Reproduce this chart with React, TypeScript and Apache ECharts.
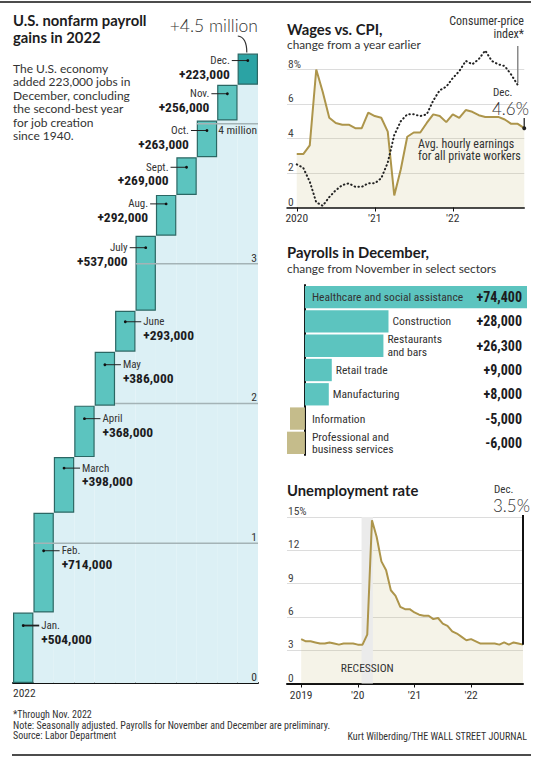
import React, { useEffect, useRef } from 'react';
import * as echarts from 'echarts';

const SANS = 'Lato, "Noto Sans", sans-serif';
const NARROW = '"Liberation Sans Narrow", "Roboto Condensed", "DejaVu Sans Condensed", Roboto, sans-serif';
const INK = '#1c1c1e';
const TEXT = '#333333';
const TEAL = '#5cc4bf';
const TEAL_DARK = '#2ba3a4';
const KHAKI = '#c5bc8b';
const GOLD = '#ad954b';

// ---- Panel 1: nonfarm payroll gains in 2022 (thousands of jobs)
const months = ['Jan.', 'Feb.', 'March', 'April', 'May', 'June', 'July', 'Aug.', 'Sept.', 'Oct.', 'Nov.', 'Dec.'];
const monthlyGains = [504, 714, 398, 368, 386, 293, 537, 292, 269, 263, 256, 223];
const cumTicks = [0, 1000, 2000, 3000, 4000];
const cumTickLabels = ['0', '1', '2', '3', '4 million'];
const cumTickStartMonth = [0, 1, 5, 6, 9];
// label layout (side of bar, offset below bar top in px)
const labelSide = ['r', 'r', 'r', 'r', 'r', 'r', 'l', 'l', 'l', 'l', 'l', 'l'];
const labelDy = [13, 38, 11, 13, 13, 11, 12, 9, 10, 10, 9, 7];

// ---- Panel 2: wages vs CPI, % change from a year earlier, Jan 2020 - Dec 2022
const wageTickValues = [0, 12, 24];
const wageTickLabels = ['2020', "'21", "'22"];
const hourlyEarnings = [
  3.1, 3.1, 3.6, 8.0, 6.7, 5.2, 4.9, 4.8, 4.8, 4.6, 4.6, 5.5,
  5.3, 5.2, 4.4, 0.7, 2.2, 4.1, 4.35, 4.35, 4.9, 5.4, 5.3, 4.95,
  5.4, 5.2, 5.65, 5.55, 5.35, 5.25, 5.25, 5.25, 5.1, 4.85, 4.85, 4.6,
];
const cpi = [
  2.5, 2.3, 1.5, 0.3, 0.1, 0.6, 1.0, 1.3, 1.4, 1.2, 1.2, 1.4,
  1.4, 1.7, 2.6, 4.2, 5.0, 5.4, 5.4, 5.3, 5.4, 6.2, 6.8, 7.0,
  7.5, 7.9, 8.5, 8.3, 8.6, 9.1, 8.5, 8.3, 8.2, 7.7, 7.1,
];

// ---- Panel 3: payrolls in December by sector
const sectors = [
  'Healthcare and social assistance',
  'Construction',
  'Restaurants\nand bars',
  'Retail trade',
  'Manufacturing',
  'Information',
  'Professional and\nbusiness services',
];
const sectorChange = [74400, 28000, 26300, 9000, 8000, -5000, -6000];

// ---- Panel 4: unemployment rate, Jan 2019 - Dec 2022
const unempTickValues = [0, 12, 24, 36];
const unempTickLabels = ['2019', "'20", "'21", "'22"];
const unemployment = [
  4.0, 3.8, 3.8, 3.7, 3.6, 3.6, 3.7, 3.6, 3.5, 3.6, 3.6, 3.6,
  3.5, 3.5, 4.4, 14.7, 13.2, 11.0, 10.2, 8.4, 7.9, 6.9, 6.7, 6.7,
  6.4, 6.2, 6.1, 6.1, 5.8, 5.9, 5.4, 5.2, 4.7, 4.5, 4.2, 3.9,
  4.0, 3.8, 3.6, 3.6, 3.6, 3.6, 3.5, 3.7, 3.5, 3.7, 3.6, 3.5,
];
const recession = [13, 15];

const cumEnd: number[] = [];
monthlyGains.forEach((v, i) => cumEnd.push((i ? cumEnd[i - 1] : 0) + v));
const cumStart = cumEnd.map((v, i) => v - monthlyGains[i]);

const fmtJobs = (k: number) => '+' + (k * 1000).toLocaleString('en-US');
const fmtSector = (v: number) => (v > 0 ? '+' : '') + v.toLocaleString('en-US');

function T(x: number, y: number, text: string, o: any = {}) {
  return {
    type: 'text', x, y, silent: true, z: 100,
    style: {
      text, fill: o.fill || TEXT, fontSize: o.size || 12, fontFamily: o.family || SANS,
      fontWeight: o.weight || 'normal', align: o.align || 'left', verticalAlign: o.va || 'middle',
      lineHeight: o.lh,
    },
  };
}
function L(x1: number, y1: number, x2: number, y2: number, color: string, w: number) {
  return { type: 'line', silent: true, z: 100, shape: { x1, y1, x2, y2 }, style: { stroke: color, lineWidth: w } };
}

function buildOption(): any {
  const yLabel = (fmt: (v: number) => string) => ({
    inside: true, margin: 1, align: 'left', verticalAlign: 'bottom', fontSize: 11.5,
    color: '#444', fontFamily: NARROW, formatter: fmt,
  });
  return {
    animation: false,
    grid: [
      { left: 13, top: 40, width: 245, height: 643 },
      { left: 287, top: 69.5, width: 237.25, height: 138 },
      { left: 287, top: 285, width: 240, height: 170 },
      { left: 287, top: 517, width: 236, height: 166.5 },
    ],
    xAxis: [
      {
        gridIndex: 0, type: 'category', data: months, boundaryGap: true,
        axisLine: { lineStyle: { color: '#111', width: 2 } }, axisTick: { show: false }, axisLabel: { show: false },
      },
      {
        gridIndex: 1, type: 'value', min: -1.5, max: 35, splitLine: { show: false },
        axisLine: { lineStyle: { color: '#111', width: 1.5 } },
        axisTick: { customValues: wageTickValues, length: 4, lineStyle: { color: '#111' } },
        axisLabel: {
          customValues: wageTickValues, margin: 4, fontSize: 11.5, color: TEXT, fontFamily: NARROW,
          formatter: (v: number) => wageTickLabels[wageTickValues.indexOf(v)] || '',
        },
      },
      { gridIndex: 2, type: 'value', min: -6000, max: 74400, show: false },
      {
        gridIndex: 3, type: 'value', min: -3, max: 47, splitLine: { show: false },
        axisLine: { lineStyle: { color: '#111', width: 2 } },
        axisTick: { customValues: unempTickValues, length: 4, lineStyle: { color: '#111' } },
        axisLabel: {
          customValues: unempTickValues, margin: 5, fontSize: 11.5, color: TEXT, fontFamily: NARROW,
          formatter: (v: number) => unempTickLabels[unempTickValues.indexOf(v)] || '',
        },
      },
    ],
    yAxis: [
      { gridIndex: 0, type: 'value', min: 0, max: 4600, show: false },
      {
        gridIndex: 1, type: 'value', min: 0, max: 8, interval: 2,
        axisLine: { show: false }, axisTick: { show: false },
        splitLine: { lineStyle: { color: '#dcdcdc', width: 1.2 } },
        axisLabel: yLabel((v: number) => (v === 8 ? '8%' : String(v))),
      },
      {
        gridIndex: 2, type: 'category', data: sectors, inverse: true,
        axisLine: { onZero: true, lineStyle: { color: '#111', width: 2 } },
        axisTick: { show: false }, axisLabel: { show: false },
      },
      {
        gridIndex: 3, type: 'value', min: 0, max: 15, interval: 3,
        axisLine: { show: false }, axisTick: { show: false },
        splitLine: { lineStyle: { color: '#dcdcdc', width: 1.2 } },
        axisLabel: yLabel((v: number) => (v === 15 ? '15%' : String(v))),
      },
    ],
    series: [
      {
        type: 'bar', xAxisIndex: 0, yAxisIndex: 0, stack: 'w', data: cumStart, barWidth: '100%',
        itemStyle: { color: '#dcf0f5' }, silent: true, z: 1,
      },
      {
        type: 'bar', xAxisIndex: 0, yAxisIndex: 0, stack: 'w', barWidth: '100%', silent: true, z: 2,
        data: monthlyGains.map((v, i) => ({ value: v, itemStyle: { color: i === 11 ? TEAL_DARK : TEAL } })),
        itemStyle: { borderColor: '#2b6764', borderWidth: 1.2 },
      },
      {
        type: 'custom', xAxisIndex: 0, yAxisIndex: 0, z: 4, silent: true,
        data: cumTicks.map((v, i) => [cumTickStartMonth[i], v, i]),
        renderItem: (params: any, api: any) => {
          const idx = api.value(0);
          const val = api.value(1);
          const li = api.value(2);
          const cs = params.coordSys;
          const p = api.coord([idx, val]);
          const w = api.size([1, 0])[0];
          const x0 = p[0] - w / 2;
          const x1 = cs.x + cs.width;
          const below = li === cumTicks.length - 1;
          const children: any[] = [];
          if (val !== 0) {
            children.push({ type: 'line', shape: { x1: x0, y1: p[1], x2: x1, y2: p[1] }, style: { stroke: '#a4b3b6', lineWidth: 1.5 } });
          }
          children.push({
            type: 'text', x: x1 - 1, y: below ? p[1] + 6 : p[1] - 6,
            style: { text: cumTickLabels[li], align: 'right', verticalAlign: 'middle', fontSize: 11.5, fontFamily: NARROW, fill: TEXT },
          });
          return { type: 'group', children };
        },
      },
      {
        type: 'custom', xAxisIndex: 0, yAxisIndex: 0, z: 5, silent: true,
        data: cumEnd.map((v, i) => [i, v, monthlyGains[i]]),
        renderItem: (params: any, api: any) => {
          const i = api.value(0);
          const p = api.coord([i, api.value(1)]);
          const cx = p[0];
          const y = p[1] + labelDy[i];
          const left = labelSide[i] === 'l';
          const dir = left ? -1 : 1;
          const align = left ? 'right' : 'left';
          return {
            type: 'group',
            children: [
              { type: 'line', shape: { x1: cx, y1: y, x2: cx + dir * 16, y2: y }, style: { stroke: '#222', lineWidth: i === 0 ? 1.8 : 1 } },
              { type: 'circle', shape: { cx, cy: y, r: 1.4 }, style: { fill: '#111' } },
              {
                type: 'text', x: cx + dir * 18, y,
                style: { text: months[i], align, verticalAlign: 'middle', fontSize: 11, fontFamily: NARROW, fill: TEXT },
              },
              {
                type: 'text', x: cx + dir * 18, y: y + 13,
                style: { text: fmtJobs(api.value(2)), align, verticalAlign: 'middle', fontSize: 13.5, fontWeight: 'bold', fontFamily: NARROW, fill: INK },
              },
            ],
          };
        },
      },
      {
        type: 'line', xAxisIndex: 1, yAxisIndex: 1, data: hourlyEarnings.map((v, i) => [i, v]),
        symbol: 'none', lineStyle: { width: 0 }, areaStyle: { color: 'rgba(199,187,127,0.25)' }, z: 1, silent: true,
      },
      {
        type: 'line', xAxisIndex: 1, yAxisIndex: 1, data: hourlyEarnings.map((v, i) => [i, v]),
        symbol: 'none', lineStyle: { color: GOLD, width: 2 }, z: 3, silent: true,
      },
      {
        type: 'line', xAxisIndex: 1, yAxisIndex: 1, data: cpi.map((v, i) => [i, v]), clip: false,
        symbol: 'none', lineStyle: { color: '#222', width: 2, type: [0.5, 3.4], cap: 'round' }, z: 4, silent: true,
      },
      {
        type: 'bar', xAxisIndex: 2, yAxisIndex: 2, barCategoryGap: '8%', silent: true, z: 2,
        data: sectorChange.map((v) => ({ value: v, itemStyle: { color: v >= 0 ? TEAL : KHAKI } })),
      },
      {
        type: 'custom', xAxisIndex: 2, yAxisIndex: 2, z: 3, silent: true,
        data: sectorChange.map((v, i) => [v, i]),
        renderItem: (params: any, api: any) => {
          const v = api.value(0);
          const i = api.value(1);
          const end = api.coord([v, i]);
          const zero = api.coord([0, i]);
          const cs = params.coordSys;
          const inside = v < 0 || end[0] - zero[0] > 150;
          const nx = inside ? zero[0] + 7 : end[0] + 4;
          return {
            type: 'group',
            children: [
              {
                type: 'text', x: nx, y: end[1],
                style: { text: sectors[i], align: 'left', verticalAlign: 'middle', fontSize: 11.6, lineHeight: 12.5, fontFamily: NARROW, fill: TEXT },
              },
              {
                type: 'text', x: cs.x + cs.width - 5, y: end[1],
                style: { text: fmtSector(v), align: 'right', verticalAlign: 'middle', fontSize: 14, fontWeight: 'bold', fontFamily: NARROW, fill: INK },
              },
            ],
          };
        },
      },
      {
        type: 'line', xAxisIndex: 3, yAxisIndex: 3, data: unemployment.map((v, i) => [i, v]),
        symbol: 'none', lineStyle: { width: 0 }, areaStyle: { color: 'rgba(199,187,127,0.25)' }, z: 1, silent: true,
      },
      {
        type: 'custom', xAxisIndex: 3, yAxisIndex: 3, z: 2, silent: true, data: [recession],
        renderItem: (params: any, api: any) => {
          const cs = params.coordSys;
          const a = api.coord([api.value(0) - 0.2, 0]);
          const b = api.coord([api.value(1) + 0.2, 0]);
          return {
            type: 'group',
            children: [
              { type: 'rect', shape: { x: a[0], y: cs.y, width: b[0] - a[0], height: cs.height }, style: { fill: '#ebebeb' } },
              {
                type: 'text', x: (a[0] + b[0]) / 2, y: cs.y + cs.height - 16,
                style: { text: 'RECESSION', align: 'center', verticalAlign: 'middle', fontSize: 11.5, fontFamily: NARROW, fill: TEXT },
              },
            ],
          };
        },
      },
      {
        type: 'line', xAxisIndex: 3, yAxisIndex: 3, data: unemployment.map((v, i) => [i, v]),
        symbol: 'none', lineStyle: { color: GOLD, width: 2 }, z: 3, silent: true,
      },
    ],
  };
}

function buildGraphic(chart: any): any[] {
  const px = (g: number, pt: number[]) => chart.convertToPixel({ gridIndex: g }, pt) as number[];
  const top = px(0, [11, cumEnd[11]]);
  const pCpi = px(1, [cpi.length - 1, cpi[cpi.length - 1]]);
  const pWage = px(1, [hourlyEarnings.length - 1, hourlyEarnings[hourlyEarnings.length - 1]]);
  const pUn = px(3, [unemployment.length - 1, unemployment[unemployment.length - 1]]);
  return [
    L(0, 2, 531, 2, '#111', 1.5),
    L(12, 755, 531, 755, '#111', 1.5),
    // left panel
    T(13, 28.5, 'U.S. nonfarm payroll\ngains in 2022', { size: 14.8, weight: 'bold', fill: INK, lh: 16.5 }),
    T(13, 61.5, 'The U.S. economy\nadded 223,000 jobs in\nDecember, concluding\nthe second-best year\nfor job creation\nsince 1940.', { size: 12, lh: 13.5, va: 'top' }),
    T(258, 25, '+4.5 million', { size: 17.5, weight: 300, align: 'right' }),
    {
      type: 'bezierCurve', silent: true, z: 100,
      shape: { x1: top[0] - 10, y1: 36, cpx1: top[0] - 1, cpy1: 37, x2: top[0] - 1, y2: top[1] - 1 },
      style: { stroke: '#333', lineWidth: 1.2, fill: 'none' },
    },
    T(13, 693, '2022', { size: 11.5, family: NARROW }),
    T(13, 714, '*Through Nov. 2022', { size: 10, family: NARROW }),
    T(13, 725, 'Note: Seasonally adjusted. Payrolls for November and December are preliminary.', { size: 10, family: NARROW }),
    T(13, 735, 'Source: Labor Department', { size: 10, family: NARROW }),
    T(527, 736, 'Kurt Wilberding/THE WALL STREET JOURNAL', { size: 10, family: NARROW, align: 'right' }),
    // wages panel
    T(287, 29, 'Wages vs. CPI,', { size: 14.8, weight: 'bold', fill: INK }),
    T(287, 44, 'change from a year earlier', { size: 11.8 }),
    T(524, 27, 'Consumer-price\nindex*', { size: 12, family: NARROW, align: 'right', lh: 13 }),
    L(pCpi[0], 46, pCpi[0], pCpi[1] - 2, '#8a8a8a', 1.5),
    T(493, 92.5, 'Dec.', { size: 11, family: NARROW }),
    T(492, 108.5, '4.6%', { size: 17, weight: 300 }),
    L(pWage[0], 118, pWage[0], pWage[1], '#444', 1.5),
    { type: 'circle', silent: true, z: 101, shape: { cx: pWage[0], cy: pWage[1], r: 2 }, style: { fill: '#222' } },
    T(418, 150, 'Avg. hourly earnings\nfor all private workers', { size: 12, family: NARROW, lh: 12.5 }),
    // payrolls panel
    T(287, 252, 'Payrolls in December,', { size: 14.8, weight: 'bold', fill: INK }),
    T(287, 268, 'change from November in select sectors', { size: 11.9 }),
    // unemployment panel
    T(287, 490, 'Unemployment rate', { size: 14.8, weight: 'bold', fill: INK }),
    T(494, 489, 'Dec.', { size: 11, family: NARROW }),
    T(493, 505, '3.5%', { size: 17, weight: 300 }),
    L(pUn[0], 515, pUn[0], pUn[1], '#111', 2),
  ];
}

export default function App() {
  const ref = useRef<HTMLDivElement>(null);
  useEffect(() => {
    const chart = echarts.init(ref.current!, null, { renderer: 'svg' });
    chart.setOption(buildOption());
    chart.setOption({ graphic: buildGraphic(chart) });
    return () => chart.dispose();
  }, []);
  return (
    <div
      ref={ref}
      style={{ position: 'absolute', left: 0, top: 0, width: 534, height: 757, background: '#ffffff' }}
    />
  );
}
